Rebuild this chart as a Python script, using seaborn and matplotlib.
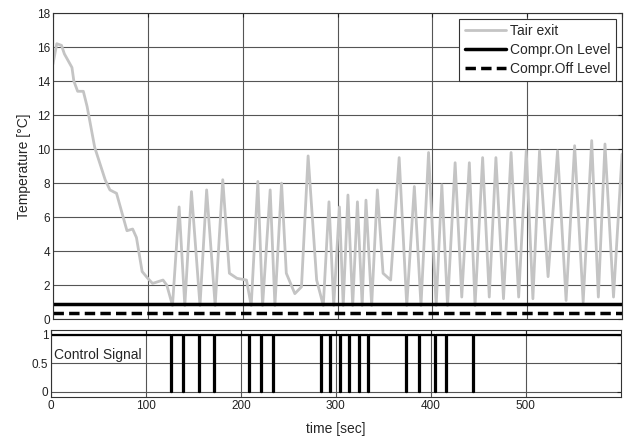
import numpy as np
import pandas as pd
import matplotlib
matplotlib.use("Agg")
import matplotlib.pyplot as plt
import seaborn as sns

# Tair exit
temp_t = [0, 4, 9, 12, 20, 22, 26, 32, 36, 44,
          55, 60, 67, 78, 84, 88, 94, 100, 105, 116,
          120, 126, 133, 139, 146, 155, 162, 171, 179, 186,
          194, 204, 209, 216, 221, 229, 234, 241, 246, 255,
          262, 269, 278, 285, 291, 296, 302, 306, 311, 316,
          321, 326, 330, 336, 342, 348, 356, 365, 373, 381,
          388, 396, 404, 410, 416, 424, 431, 439, 445, 453,
          460, 467, 475, 483, 491, 499, 506, 513, 522, 532,
          541, 550, 559, 568, 575, 582, 591, 600]
temp_v = [15.0, 16.2, 16.1, 15.6, 14.8, 14.0, 13.4, 13.4, 12.5, 10.1,
          8.2, 7.6, 7.4, 5.2, 5.3, 4.8, 2.8, 2.4, 2.1, 2.3,
          2.0, 0.8, 6.6, 0.8, 7.5, 0.8, 7.6, 0.8, 8.2, 2.7,
          2.4, 2.3, 0.8, 8.1, 0.8, 7.6, 0.8, 8.0, 2.7, 1.5,
          1.9, 9.6, 2.3, 0.8, 6.9, 0.8, 6.6, 0.8, 7.3, 0.8,
          6.9, 0.8, 7.0, 0.8, 7.6, 2.7, 2.3, 9.5, 0.8, 7.8,
          0.8, 9.8, 0.8, 7.9, 0.8, 9.2, 1.3, 9.2, 0.8, 9.5,
          1.3, 9.5, 1.2, 9.8, 1.3, 9.9, 1.2, 9.9, 2.5, 9.9,
          1.1, 10.2, 1.0, 10.5, 1.3, 10.3, 1.3, 9.7]

on_level = 0.9
off_level = 0.35

# times where the control signal drops to 0
off_times = [126, 139, 156, 172, 209, 221, 234, 284, 294, 304, 314, 324,
             334, 374, 388, 404, 416, 444]
pulse_len = 1.0
t_end = 600

# step signal built from the drop times
sig_t, sig_v = [0], [1]
for d in off_times:
    sig_t += [d, d, d + pulse_len, d + pulse_len]
    sig_v += [1, 0, 0, 1]
sig_t.append(t_end)
sig_v.append(1)

df_temp = pd.DataFrame({"t": temp_t, "T": temp_v})
df_sig = pd.DataFrame({"t": sig_t, "s": sig_v})

sns.set_theme(style="white")
plt.rcParams["font.family"] = ["Liberation Sans", "DejaVu Sans"]

fig = plt.figure(figsize=(6.33, 4.36), dpi=100)
ax1 = fig.add_axes([0.0837, 0.268, 0.899, 0.702])
ax2 = fig.add_axes([0.0806, 0.0894, 0.900, 0.154])

grid_kw = dict(color="#555555", linewidth=0.8)

# --- top panel
sns.lineplot(data=df_temp, x="t", y="T", ax=ax1, color="#c4c4c4",
             linewidth=2.0, label="Tair exit", sort=False, estimator=None)
ax1.axhline(on_level, color="black", linewidth=2.5, label="Compr.On Level")
ax1.axhline(off_level, color="black", linewidth=2.5, linestyle=(0, (3, 1.5)),
            label="Compr.Off Level")
ax1.set_xlim(0, 600)
ax1.set_ylim(0, 18)
ax1.set_xticks(np.arange(0, 601, 100))
ax1.set_yticks(np.arange(0, 19, 2))
ax1.set_xticklabels([])
ax1.set_xlabel("")
ax1.set_ylabel("Temperature [°C]", fontsize=10, labelpad=4)
ax1.grid(True, **grid_kw)
leg = ax1.legend(loc="upper right", fontsize=10, frameon=True, fancybox=False,
                 framealpha=1, edgecolor="#333333", handlelength=3.0,
                 borderaxespad=0.4, labelspacing=0.35, handletextpad=0.3)
leg.get_frame().set_linewidth(0.8)

# --- bottom panel
sns.lineplot(data=df_sig, x="t", y="s", ax=ax2, color="black",
             linewidth=1.6, sort=False, estimator=None)
ax2.set_xlim(0, 600)
ax2.set_ylim(-0.09, 1.09)
ax2.set_xticks(np.arange(0, 501, 100))
ax2.set_yticks([0, 0.5, 1])
ax2.set_yticklabels(["0", "0.5", "1"])
ax2.set_xlabel("time [sec]", fontsize=10, labelpad=7)
ax2.set_ylabel("")
ax2.grid(True, **grid_kw)
ax2.text(3, 0.64, "Control Signal", fontsize=10, ha="left", va="center")

for ax in (ax1, ax2):
    ax.tick_params(direction="in", length=3, width=0.8, labelsize=8.5,
                   top=True, right=True, pad=2, colors="#222222")
    for sp in ax.spines.values():
        sp.set_color("#333333")
        sp.set_linewidth(0.8)

fig.savefig("out.png", dpi=100, facecolor="white")
